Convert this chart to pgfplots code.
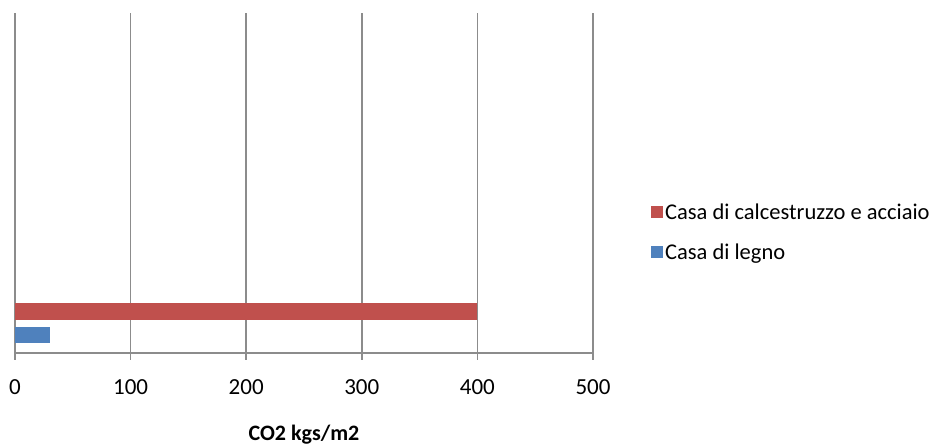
\documentclass[border=0pt]{standalone}
\usepackage{pgfplots}
\pgfplotsset{compat=1.18}
\usepackage{fontspec}
\setmainfont{Carlito}
\definecolor{cred}{HTML}{C0504D}
\definecolor{cblue}{HTML}{4F81BD}
\definecolor{cgrid}{HTML}{8C8C8C}
\begin{document}
\begin{tikzpicture}
\useasboundingbox (0,0) rectangle (932pt,446pt);
\begin{axis}[
 at={(15pt,93pt)}, anchor=south west,
 scale only axis, width=578pt, height=340pt,
 xmin=0, xmax=500, ymin=0, ymax=340,
 axis x line=bottom, axis y line=left,
 axis line style={cgrid, line width=1.5pt, -},
 xtick={0,100,...,500}, ytick=\empty,
 xmajorgrids, grid style={cgrid, line width=1.5pt},
 major tick length=7pt, tick align=outside, tick style={cgrid, line width=1.5pt},
 xticklabel style={font=\fontsize{23}{27}\selectfont, text=black, anchor=center, yshift=-27pt},
 /pgf/number format/assume math mode=true,
 xlabel={\textbf{CO2 kgs/m2}},
 xlabel style={font=\fontsize{22}{26}\selectfont, text=black,
   at={(axis description cs:0.5,0)}, anchor=center, yshift=-82pt},
 legend style={at={(1.095,0.355)}, anchor=west, draw=none, fill=none,
   font=\fontsize{22.5}{27}\selectfont, row sep=19pt,
   legend cell align=left},
]
\addplot[xbar, bar width=16.5, bar shift=0pt, fill=cred, draw=none,
  legend image code/.code={\fill[cred] (0pt,-6pt) rectangle (12pt,6pt);}]
  coordinates {(400,41.5)};
\addlegendentry{Casa di calcestruzzo e acciaio}
\addplot[xbar, bar width=16.5, bar shift=0pt, fill=cblue, draw=none,
  legend image code/.code={\fill[cblue] (0pt,-6pt) rectangle (12pt,6pt);}]
  coordinates {(30,18)};
\addlegendentry{Casa di legno}
\end{axis}
\end{tikzpicture}
\end{document}
